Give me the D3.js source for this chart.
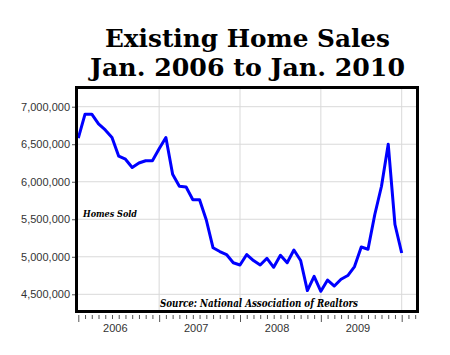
<!DOCTYPE html>
<html><head><meta charset="utf-8">
<script src="https://cdn.jsdelivr.net/npm/d3@7"></script>
<style>body{margin:0;background:#fff;}svg{display:block;}</style>
</head><body>
<svg id="c" width="450" height="355"></svg>
<script>
const titleLines = ["Existing Home Sales", "Jan. 2006 to Jan. 2010"];
const yTicks = [4500000, 5000000, 5500000, 6000000, 6500000, 7000000];
const yearLabels = ["2006", "2007", "2008", "2009"];
const yearStarts = [0, 12, 24, 36, 48];
// monthly sales, Jan 2006 .. Jan 2010 (millions, seasonally adjusted annual rate)
const sales = [
  6.58, 6.90, 6.90, 6.77, 6.69, 6.59, 6.34, 6.30, 6.19, 6.25, 6.28, 6.28,
  6.44, 6.59, 6.10, 5.94, 5.93, 5.76, 5.76, 5.49, 5.12, 5.07, 5.03, 4.92,
  4.89, 5.03, 4.95, 4.89, 4.98, 4.86, 5.02, 4.92, 5.09, 4.95, 4.55, 4.74,
  4.54, 4.69, 4.61, 4.70, 4.75, 4.87, 5.13, 5.10, 5.56, 5.94, 6.50, 5.43,
  5.05
];
const seriesLabel = "Homes Sold";
const sourceLabel = "Source: National Association of Realtors";

const svg = d3.select("#c");
const x = d3.scaleLinear().domain([0, 48]).range([78.3, 401.7]);
const y = d3.scaleLinear().domain([4500000, 7000000]).range([294.3, 106.7]);
const frame = {x0: 76.5, x1: 417.5, y0: 87.5, y1: 311.5};

// title
const tw = [285, 315], tb = [47, 76];
titleLines.forEach((t, i) => {
  svg.append("text").attr("x", 247.5).attr("y", tb[i])
    .attr("text-anchor", "middle")
    .attr("font-family", "DejaVu Serif").attr("font-weight", "bold")
    .attr("font-size", 25).attr("fill", "#000")
    .attr("textLength", tw[i]).attr("lengthAdjust", "spacingAndGlyphs")
    .text(t);
});

// grid
const g = svg.append("g");
g.selectAll("line.h").data(yTicks).join("line")
  .attr("x1", frame.x0).attr("x2", frame.x1)
  .attr("y1", d => y(d)).attr("y2", d => y(d))
  .attr("stroke", "#d9d9d9").attr("stroke-width", 1);
g.selectAll("line.v").data(yearStarts.slice(1)).join("line")
  .attr("x1", d => x(d)).attr("x2", d => x(d))
  .attr("y1", frame.y0).attr("y2", frame.y1)
  .attr("stroke", "#d9d9d9").attr("stroke-width", 1);

// line
svg.append("path").datum(sales)
  .attr("fill", "none").attr("stroke", "#0000ff").attr("stroke-width", 3)
  .attr("stroke-linejoin", "round")
  .attr("d", d3.line().x((d, i) => x(i)).y(d => y(d * 1e6)));

// frame
svg.append("rect").attr("x", frame.x0).attr("y", frame.y0)
  .attr("width", frame.x1 - frame.x0).attr("height", frame.y1 - frame.y0)
  .attr("fill", "none").attr("stroke", "#000").attr("stroke-width", 3);

// y axis
const ya = svg.append("g").attr("transform", "translate(75,0)")
  .call(d3.axisLeft(y).tickValues(yTicks).tickSize(3).tickPadding(2)
    .tickFormat(d3.format(",")));
ya.select(".domain").remove();
ya.selectAll("line").attr("stroke", "#555");
ya.selectAll("text").attr("font-family", "Liberation Sans").attr("font-size", 11).attr("fill", "#333");

// x axis ticks
const months = d3.range(0, 51);
const xa = svg.append("g").attr("transform", "translate(0,315)")
  .call(d3.axisBottom(x).tickValues(months).tickSize(4).tickFormat(""));
xa.select(".domain").remove();
xa.selectAll("line").attr("stroke", "#555").attr("y2", d => yearStarts.includes(d) ? 7 : 4);
svg.selectAll("text.yr").data(yearLabels).join("text")
  .attr("x", (d, i) => x(i * 12 + 5.5)).attr("y", 332)
  .attr("text-anchor", "middle")
  .attr("font-family", "Liberation Sans").attr("font-size", 11).attr("fill", "#333")
  .text(d => d);

// labels inside
svg.append("text").attr("x", 83).attr("y", 217)
  .attr("font-family", "DejaVu Serif").attr("font-weight", "bold").attr("font-style", "italic")
  .attr("font-size", 10).attr("textLength", 54).attr("lengthAdjust", "spacingAndGlyphs")
  .text(seriesLabel);
svg.append("text").attr("x", 160).attr("y", 307)
  .attr("font-family", "DejaVu Serif").attr("font-weight", "bold").attr("font-style", "italic")
  .attr("font-size", 10.5).attr("textLength", 198).attr("lengthAdjust", "spacingAndGlyphs")
  .text(sourceLabel);
</script>
</body></html>
